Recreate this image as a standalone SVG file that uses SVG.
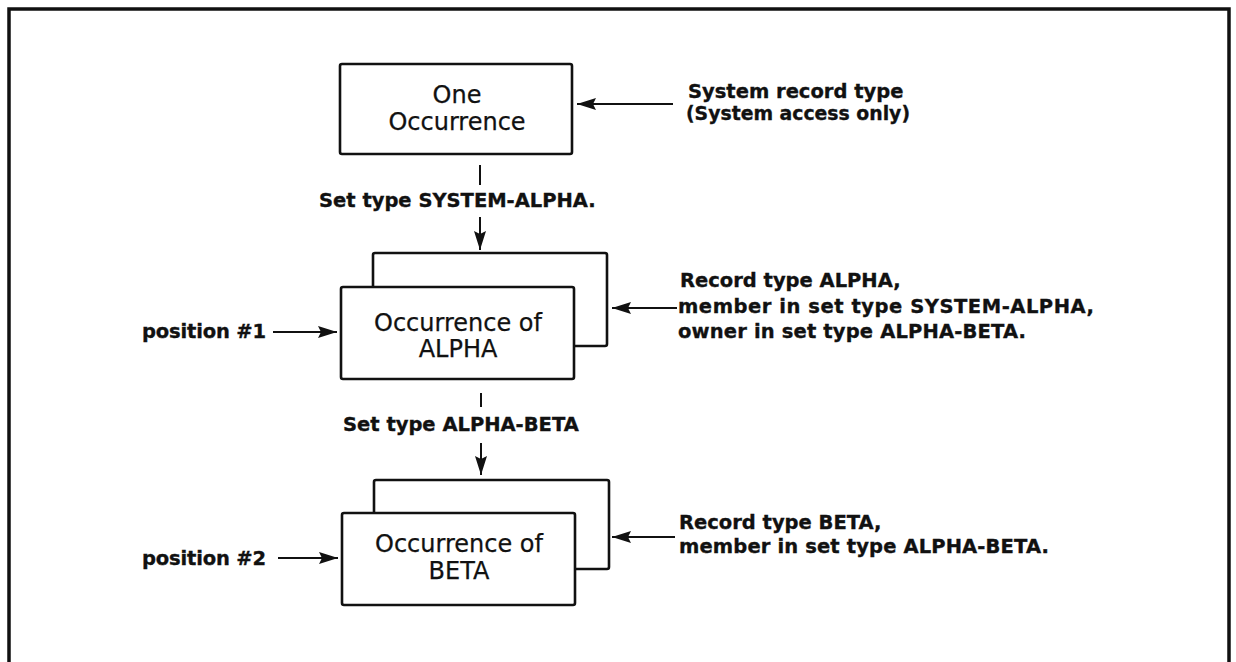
<svg xmlns="http://www.w3.org/2000/svg" width="1236" height="662" viewBox="0 0 1236 662">
  <style>
    .frame { fill: none; stroke: #111; stroke-width: 3.5; }
    .box { fill: #fff; stroke: #111; stroke-width: 2.6; stroke-linejoin: round; }
    .link { fill: none; stroke: #111; stroke-width: 2; }
    .name { font-family: "DejaVu Sans", "Liberation Sans", sans-serif; font-size: 24px; fill: #111; stroke: #111; stroke-width: 0.25; text-anchor: middle; }
    .label { font-family: "DejaVu Sans", "Liberation Sans", sans-serif; font-weight: bold; font-size: 19.5px; fill: #111; stroke: #111; stroke-width: 0.35; }
  </style>
  <defs>
    <marker id="head" markerUnits="userSpaceOnUse" markerWidth="22" markerHeight="14" refX="19" refY="7" orient="auto">
      <path d="M0,1 L19,7 L0,13 L3,7 Z" fill="#111"/>
    </marker>
  </defs>

  <rect width="1236" height="662" fill="#fff"/>

  <!-- outer frame, open at the bottom -->
  <path class="frame" d="M9,670 L9,9 L1229,9 L1229,670"/>

  <g id="system-record">
    <rect class="box" x="340" y="64" width="232" height="90" rx="2"/>
    <text class="name" x="457" y="103">One</text>
    <text class="name" x="457" y="130">Occurrence</text>
  </g>

  <g id="alpha-record">
    <rect class="box" x="373" y="253" width="234" height="93" rx="2"/>
    <rect class="box" x="341" y="287" width="233" height="92" rx="2"/>
    <text class="name" x="458" y="331">Occurrence of</text>
    <text class="name" x="458" y="357">ALPHA</text>
  </g>

  <g id="beta-record">
    <rect class="box" x="374" y="480" width="235" height="89" rx="2"/>
    <rect class="box" x="342" y="513" width="233" height="92" rx="2"/>
    <text class="name" x="459" y="552">Occurrence of</text>
    <text class="name" x="459" y="579">BETA</text>
  </g>

  <g id="connectors">
    <!-- set SYSTEM-ALPHA -->
    <line class="link" x1="480" y1="165" x2="480" y2="185"/>
    <line class="link" x1="480" y1="217" x2="480" y2="250" marker-end="url(#head)"/>
    <!-- set ALPHA-BETA -->
    <line class="link" x1="481" y1="393" x2="481" y2="407"/>
    <line class="link" x1="481" y1="443" x2="481" y2="475" marker-end="url(#head)"/>
    <!-- pointers to the boxes -->
    <line class="link" x1="673" y1="104" x2="577" y2="104" marker-end="url(#head)"/>
    <line class="link" x1="677" y1="308" x2="612" y2="308" marker-end="url(#head)"/>
    <line class="link" x1="675" y1="537" x2="612" y2="537" marker-end="url(#head)"/>
    <line class="link" x1="273" y1="332" x2="337" y2="332" marker-end="url(#head)"/>
    <line class="link" x1="278" y1="558" x2="338" y2="558" marker-end="url(#head)"/>
  </g>

  <g id="labels">
    <text class="label" x="688" y="98">System record type</text>
    <text class="label" x="686" y="120" textLength="224" lengthAdjust="spacingAndGlyphs">(System access only)</text>
    <text class="label" x="319" y="207">Set type SYSTEM-ALPHA.</text>
    <text class="label" x="680" y="287">Record type ALPHA,</text>
    <text class="label" x="678" y="313" textLength="416" lengthAdjust="spacing">member in set type SYSTEM-ALPHA,</text>
    <text class="label" x="678" y="338" textLength="348" lengthAdjust="spacing">owner in set type ALPHA-BETA.</text>
    <text class="label" x="142" y="338" textLength="124" lengthAdjust="spacing">position  #1</text>
    <text class="label" x="343" y="431">Set type ALPHA-BETA</text>
    <text class="label" x="679" y="529">Record type BETA,</text>
    <text class="label" x="679" y="553" textLength="370" lengthAdjust="spacing">member in set type ALPHA-BETA.</text>
    <text class="label" x="142" y="565" textLength="124" lengthAdjust="spacing">position  #2</text>
  </g>
</svg>
